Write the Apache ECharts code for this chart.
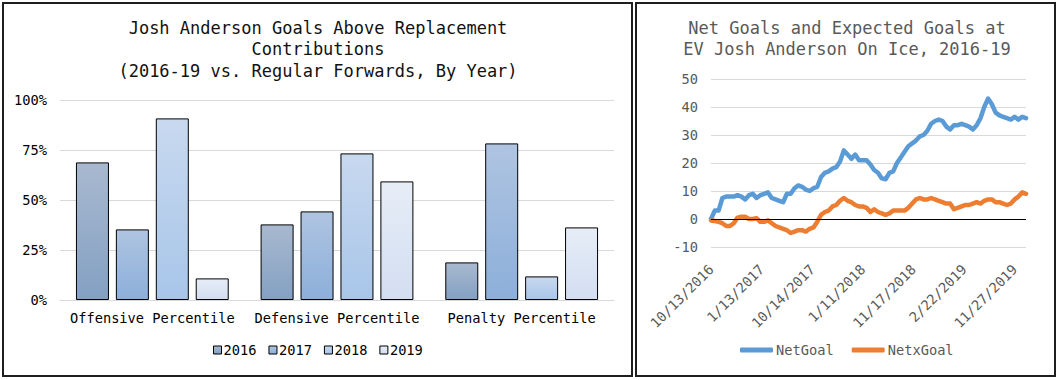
<!DOCTYPE html>
<html><head><meta charset="utf-8">
<script src="https://cdn.jsdelivr.net/npm/echarts@6/dist/echarts.min.js"></script>
<style>
html,body{margin:0;padding:0;background:#fff;}
#c{position:absolute;left:0;top:0;width:1061px;height:380px;}
.frame{position:absolute;border:2px solid #1e1e1e;box-sizing:border-box;pointer-events:none;}
</style></head><body>
<div id="c"></div>
<div class="frame" style="left:2px;top:2px;width:631px;height:375px"></div>
<div class="frame" style="left:635px;top:2px;width:421px;height:375px"></div>
<script>
// ---- Left chart data ----
const barCategories = ['Offensive Percentile', 'Defensive Percentile', 'Penalty Percentile'];
const years = ['2016', '2017', '2018', '2019'];
const pct2016 = [0.688, 0.378, 0.188];
const pct2017 = [0.353, 0.443, 0.783];
const pct2018 = [0.908, 0.733, 0.118];
const pct2019 = [0.108, 0.593, 0.363];

// ---- Right chart data ----
const lineTickLabels = ['10/13/2016', '1/13/2017', '10/14/2017', '1/11/2018', '11/17/2018', '2/22/2019', '11/27/2019'];
const lineSeriesNames = ['NetGoal', 'NetxGoal'];
const gamesPerLabel = 40;
const gamesPerSample = 3;
const netGoal = [0,3,3,7.5,8,8,8,8.5,8,7,
  8.5,9,7.5,8.5,9,9.5,7.5,7,6.5,6,
  9,9,11,12,11.5,10.5,10,11,11.5,15,
  16.5,17,18,18.5,20.5,24.5,23,21.5,23,21,
  21,21,19.5,17.5,16.5,14.5,14.2,16.5,17,20,
  22,24,26,27,28,29.5,30,31.5,34,35,
  35.5,35,33,32,33.5,33.5,34,33.5,33,32,
  33.5,36,40,43,41,38,37,36.5,36,35.5,
  36.5,35.5,36.5,36];
const netxGoal = [-0.5,-0.7,-1,-1.5,-2.5,-2.5,-1.5,0.5,0.8,0.8,
  0,0,0.3,-1,-1,-0.5,-1.5,-2.5,-3,-3.5,
  -4,-5,-4.5,-4,-4,-4.5,-3.5,-3,-1,1.5,
  2.5,3,4.5,5,6.5,7.5,6.5,6,5,4.5,
  4.5,4,2.5,3.5,2.5,2,1.5,2,3,3,
  3,3,4,5.5,7,7.5,7,7,7.5,7,
  6.5,6,5.5,5.5,3.5,4,4.5,5,5,5.5,
  6,5.5,6.5,7,7,6,6,5.5,5,5.5,
  7,8,9.5,9];

const MONO = 'DejaVu Sans Mono';
const grad = (top, bottom) => new echarts.graphic.LinearGradient(0, 0, 0, 1, [
  {offset: 0, color: top}, {offset: 1, color: bottom}]);
const barFills = [
  grad('#a8b9cf', '#84a0c3'),
  grad('#afc4e1', '#8cafda'),
  grad('#c8d9ef', '#a8c5e9'),
  grad('#e6edf7', '#d3def1')
];
const lineColors = ['#5b9bd5', '#ed7d31'];
const barSeriesValues = [pct2016, pct2017, pct2018, pct2019];
const lineSeriesValues = [netGoal, netxGoal];
const toPairs = arr => arr.map((v, i) => [i * gamesPerSample, v]);
const lastGame = (netGoal.length - 1) * gamesPerSample;

const chart = echarts.init(document.getElementById('c'), null, {renderer: 'svg'});
chart.setOption({
  animation: false,
  backgroundColor: '#fff',
  title: [
    {
      text: 'Josh Anderson Goals Above Replacement\nContributions\n(2016-19 vs. Regular Forwards, By Year)',
      left: 318, top: 17, padding: 0, textAlign: 'center',
      textStyle: {fontFamily: MONO, fontSize: 17, fontWeight: 'normal', color: '#111', lineHeight: 21.5}
    },
    {
      text: 'Net Goals and Expected Goals at\nEV Josh Anderson On Ice, 2016-19',
      left: 847, top: 17, padding: 0, textAlign: 'center',
      textStyle: {fontFamily: MONO, fontSize: 17, fontWeight: 'normal', color: '#595959', lineHeight: 21.5}
    }
  ],
  legend: [
    {
      data: years, left: 213, top: 343, padding: 0,
      icon: 'rect', itemWidth: 8, itemHeight: 8, itemGap: 12,
      itemStyle: {borderColor: '#000', borderWidth: 1},
      textStyle: {fontFamily: MONO, fontSize: 13.7, color: '#000', padding: [0, 0, 0, -3]}
    },
    {
      data: lineSeriesNames.map(n => ({name: n, icon: 'roundRect'})),
      left: 740, top: 343, padding: 0,
      itemWidth: 33, itemHeight: 5, itemGap: 18,
      textStyle: {fontFamily: MONO, fontSize: 13.7, color: '#595959', padding: [0, 0, 0, -2]}
    }
  ],
  grid: [
    {left: 60, top: 100, width: 554, height: 200, containLabel: false},
    {left: 711, top: 79, width: 315, height: 168, containLabel: false}
  ],
  xAxis: [
    {
      type: 'category', gridIndex: 0, data: barCategories,
      axisLine: {show: true, lineStyle: {color: '#d9d9d9', width: 1}},
      axisTick: {show: false},
      axisLabel: {fontFamily: MONO, fontSize: 13.7, color: '#000', margin: 11, interval: 0}
    },
    {
      type: 'value', gridIndex: 1, min: 0, max: lastGame, interval: gamesPerLabel,
      axisLine: {show: false}, axisTick: {show: false}, splitLine: {show: false},
      axisLabel: {
        rotate: 45, margin: 20, fontFamily: MONO, fontSize: 13.7, color: '#595959',
        showMaxLabel: false,
        formatter: v => (v % gamesPerLabel === 0 && lineTickLabels[v / gamesPerLabel]) || ''
      }
    }
  ],
  yAxis: [
    {
      type: 'value', gridIndex: 0, min: 0, max: 1, interval: 0.25,
      axisLine: {show: false}, axisTick: {show: false},
      splitLine: {lineStyle: {color: '#d9d9d9', width: 1}},
      axisLabel: {fontFamily: MONO, fontSize: 13.7, color: '#000', margin: 13,
        formatter: v => Math.round(v * 100) + '%'}
    },
    {
      type: 'value', gridIndex: 1, min: -10, max: 50, interval: 10,
      axisLine: {show: false}, axisTick: {show: false},
      splitLine: {lineStyle: {color: '#d9d9d9', width: 1}},
      axisLabel: {fontFamily: MONO, fontSize: 13.7, color: '#595959', margin: 13}
    }
  ],
  series: [
    ...years.map((y, k) => ({
      name: y, type: 'bar', xAxisIndex: 0, yAxisIndex: 0,
      data: barSeriesValues[k], barWidth: 33, barGap: '21%',
      itemStyle: {color: barFills[k], borderColor: '#000', borderWidth: 1}
    })),
    ...lineSeriesNames.map((n, k) => ({
      name: n, type: 'line', xAxisIndex: 1, yAxisIndex: 1,
      data: toPairs(lineSeriesValues[k]), showSymbol: false, symbol: 'none', z: 3 + k,
      lineStyle: {color: lineColors[k], width: 4.5, cap: 'round', join: 'round'},
      itemStyle: {color: lineColors[k]},
      markLine: k === 0 ? {
        silent: true, symbol: ['none', 'none'], label: {show: false},
        lineStyle: {color: '#000', width: 1, type: 'solid'},
        data: [{yAxis: 0}]
      } : undefined
    }))
  ]
});
</script>
</body></html>
